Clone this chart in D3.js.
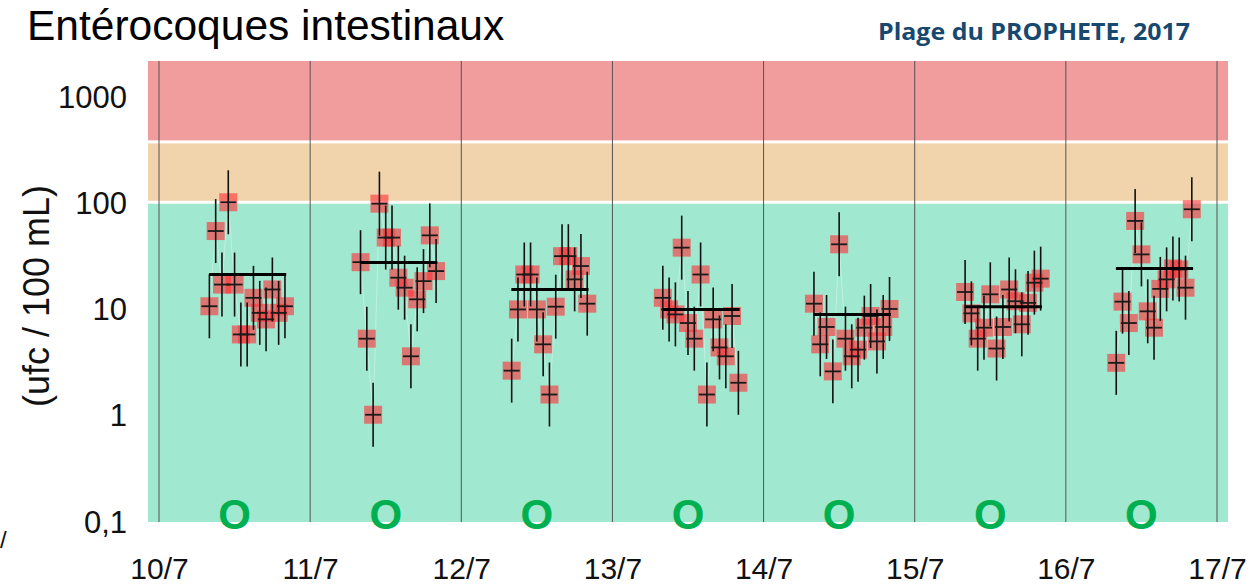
<!DOCTYPE html>
<html>
<head>
<meta charset="utf-8">
<script src="https://cdn.jsdelivr.net/npm/d3@7"></script>
<style>
  body { margin: 0; background: #fff; }
  svg { display: block; }
</style>
</head>
<body>
<div id="chart"></div>
<script>
// sampling days (July 2017) and hourly sampling times
var dayNums = [10, 11, 12, 13, 14, 15, 16, 17];
var dayLabels = ['10/7', '11/7', '12/7', '13/7', '14/7', '15/7', '16/7', '17/7'];
var hours = [8, 9, 10, 11, 12, 13, 14, 15, 16, 17, 18, 19, 20];

// enterococci counts (ufc / 100 mL), one value per hour
var ent10 = [10.5, 53.6, 16.8, 100, 16.8, 5.7, 5.7, 12.6, 9.1, 7.9, 15.1, 9.1, 10.5];
var ent11 = [27.3, 5.2, 1.0, 97, 46.5, 46.5, 19.5, 15.7, 3.55, 12.2, 18.1, 48.8, 22.5];
var ent12 = [2.6, 9.8, 20.9, 20.9, 9.8, 4.6, 1.55, 10.4, 31.1, 31.1, 18.8, 25.1, 11.1];
var ent13 = [12.6, 9.8, 8.8, 37.4, 7.3, 5.2, 20.9, 1.55, 7.9, 4.3, 3.55, 8.5, 2.0];
var ent14 = [11.1, 4.6, 6.7, 2.56, 40.2, 5.2, 3.55, 4.1, 6.6, 8.5, 4.9, 6.7, 9.9];
var ent15 = [14.3, 9.0, 5.2, 6.6, 13.6, 4.2, 6.7, 15.1, 11.7, 7.1, 11.3, 17.5, 19.1];
var ent16 = [3.08, 11.6, 7.3, 66.7, 32.3, 9.4, 6.6, 15.3, 18.8, 23.8, 23.3, 15.7, 85.9];
var dailyMeans = [20.9, 27.1, 15.1, 9.8, 8.8, 10.4, 23.8];
var quality = ['O', 'O', 'O', 'O', 'O', 'O', 'O'];
var errFactor = 2;

// y axis
var yTicks = [0.1, 1, 10, 100, 1000];
var yTickLabels = ['0,1', '1', '10', '100', '1000'];
// quality bands (lower, upper limit)
var bandLow = [0.1, 100, 370];
var bandHigh = [100, 370, 2200];
var bandColors = ['#a0e8cf', '#f1d4ac', '#f29d9d'];

var series = [ent10, ent11, ent12, ent13, ent14, ent15, ent16];

var width = 1252, height = 587;
var plotLeft = 148, plotRight = 1228, plotTop = 61, plotBottom = 522;

var svg = d3.select('#chart').append('svg')
    .attr('width', width)
    .attr('height', height);

var x = d3.scaleLinear().domain([10, 17]).range([159, 1217]);
var y = d3.scaleLog().domain([0.1, 1000]).range([521, 96]);

// background bands
svg.append('g').selectAll('rect').data(bandLow)
    .enter().append('rect')
    .attr('x', plotLeft)
    .attr('width', plotRight - plotLeft)
    .attr('y', function (d, i) { return Math.max(plotTop, y(bandHigh[i])) + (i < 2 ? 1.5 : 0); })
    .attr('height', function (d, i) {
        var top = Math.max(plotTop, y(bandHigh[i])) + (i < 2 ? 1.5 : 0);
        var bot = i === 0 ? plotBottom : y(d) - 1.5;
        return bot - top;
    })
    .style('fill', function (d, i) { return bandColors[i]; });

// day separators
svg.append('g').selectAll('line').data(dayNums)
    .enter().append('line')
    .attr('x1', function (d) { return x(d); })
    .attr('x2', function (d) { return x(d); })
    .attr('y1', plotTop)
    .attr('y2', plotBottom)
    .style('stroke', '#555')
    .style('stroke-width', 1);

// quality marks
svg.append('g').selectAll('text').data(quality)
    .enter().append('text')
    .attr('x', function (d, i) { return x(dayNums[i] + 0.5); })
    .attr('y', 529)
    .attr('text-anchor', 'middle')
    .style('font-family', '"Liberation Sans", Arial, sans-serif')
    .style('font-weight', 'bold')
    .style('font-size', '42px')
    .style('fill', '#00b050')
    .text(function (d) { return d; });

var pts = svg.append('g');
series.forEach(function (vals, k) {
    var day = dayNums[k];
    var g = pts.append('g');
    var line = d3.line()
        .x(function (d, i) { return x(day + hours[i] / 24); })
        .y(function (d) { return y(d); });
    g.append('path').attr('d', line(vals))
        .style('fill', 'none')
        .style('stroke', '#fff')
        .style('stroke-opacity', 0.35)
        .style('stroke-width', 1);

    g.selectAll('rect').data(vals)
        .enter().append('rect')
        .attr('x', function (d, i) { return x(day + hours[i] / 24) - 9; })
        .attr('y', function (d) { return y(d) - 9; })
        .attr('width', 18)
        .attr('height', 18)
        .style('fill', '#ff3238')
        .style('fill-opacity', 0.62);

    g.selectAll('line.err').data(vals)
        .enter().append('line').attr('class', 'err')
        .attr('x1', function (d, i) { return x(day + hours[i] / 24); })
        .attr('x2', function (d, i) { return x(day + hours[i] / 24); })
        .attr('y1', function (d) { return y(d * errFactor); })
        .attr('y2', function (d) { return y(d / errFactor); })
        .style('stroke', '#111')
        .style('stroke-width', 1.6);

    g.selectAll('line.tick').data(vals)
        .enter().append('line').attr('class', 'tick')
        .attr('x1', function (d, i) { return x(day + hours[i] / 24) - 8; })
        .attr('x2', function (d, i) { return x(day + hours[i] / 24) + 8; })
        .attr('y1', function (d) { return y(d); })
        .attr('y2', function (d) { return y(d); })
        .style('stroke', '#1a1a1a')
        .style('stroke-width', 1.8);

    // daily mean
    g.append('line')
        .attr('x1', x(day + 7.95 / 24))
        .attr('x2', x(day + 20.2 / 24))
        .attr('y1', y(dailyMeans[k]))
        .attr('y2', y(dailyMeans[k]))
        .style('stroke', '#000')
        .style('stroke-width', 3);
});

// axes
var yAxis = d3.axisLeft(y).tickValues(yTicks).tickSize(0).tickPadding(0)
    .tickFormat(function (d, i) { return yTickLabels[i]; });
var ya = svg.append('g').attr('transform', 'translate(127,0)').call(yAxis);
ya.select('.domain').remove();
ya.selectAll('text')
    .attr('dy', '0.36em')
    .style('font-family', '"Liberation Sans", Arial, sans-serif')
    .style('font-size', '31px')
    .style('fill', '#111');

var xAxis = d3.axisBottom(x).tickValues(dayNums).tickSize(0).tickPadding(0)
    .tickFormat(function (d, i) { return dayLabels[i]; });
var xa = svg.append('g').attr('transform', 'translate(0,556)').call(xAxis);
xa.select('.domain').remove();
xa.selectAll('text')
    .attr('dy', '0.75em')
    .style('font-family', '"Liberation Sans", Arial, sans-serif')
    .style('font-size', '30px')
    .style('fill', '#111');

// titles
svg.append('text')
    .attr('x', 27).attr('y', 40)
    .style('font-family', '"Liberation Sans", Arial, sans-serif')
    .style('font-size', '42.5px')
    .style('fill', '#000')
    .text('Entérocoques intestinaux');

svg.append('text')
    .attr('x', 878).attr('y', 40)
    .attr('textLength', 312)
    .attr('lengthAdjust', 'spacingAndGlyphs')
    .style('font-family', '"Open Sans", sans-serif')
    .style('font-weight', 'bold')
    .style('font-size', '23px')
    .style('fill', '#17486f')
    .text('Plage du PROPHETE, 2017');

svg.append('text')
    .attr('transform', 'translate(49,296) rotate(-90)')
    .attr('text-anchor', 'middle')
    .style('font-family', '"Liberation Sans", Arial, sans-serif')
    .style('font-size', '36px')
    .style('fill', '#111')
    .text('(ufc / 100 mL)');

svg.append('text')
    .attr('x', 0).attr('y', 548)
    .style('font-family', '"Liberation Sans", Arial, sans-serif')
    .style('font-size', '24px')
    .style('fill', '#111')
    .text('/');
</script>
</body>
</html>
